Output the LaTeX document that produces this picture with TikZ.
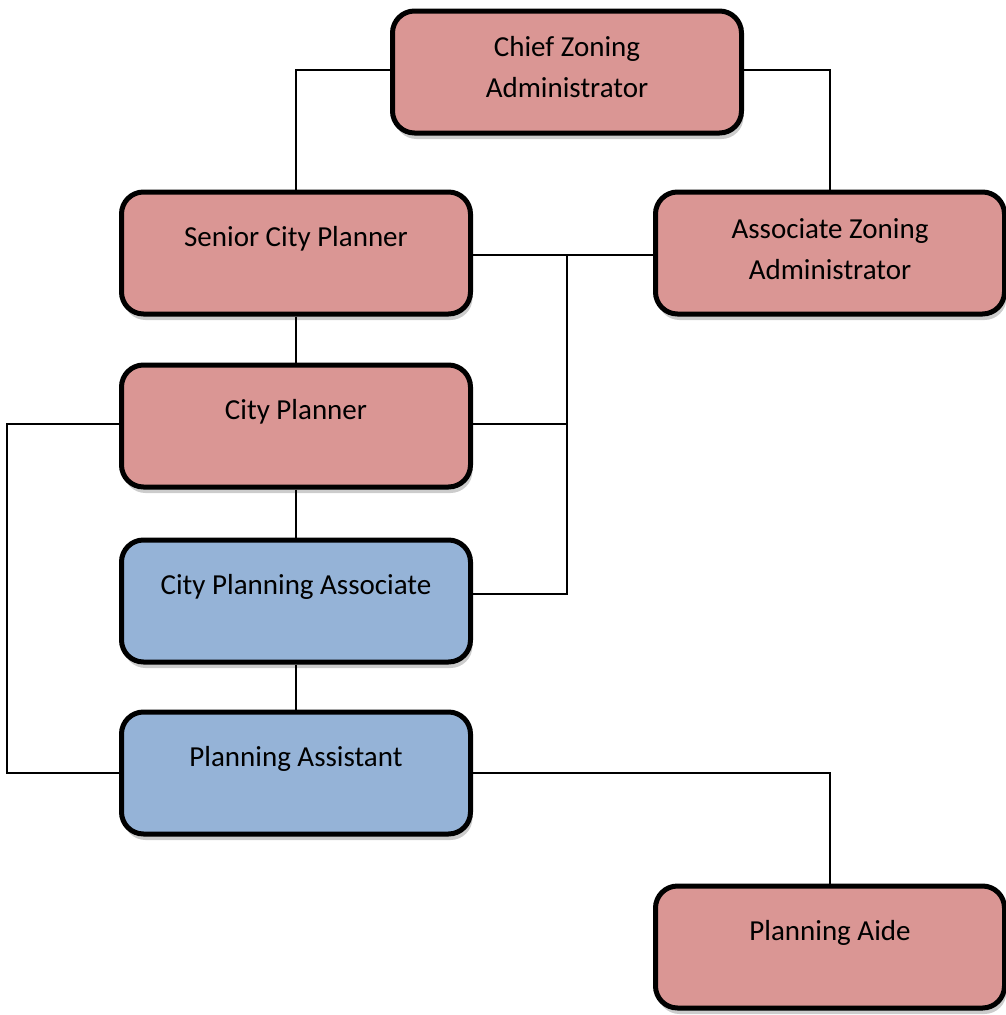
\documentclass[tikz,border=0pt]{standalone}
\usepackage{fontspec}
\setmainfont{Carlito}
\usetikzlibrary{shadows}
\definecolor{rolepink}{HTML}{DA9694}
\definecolor{roleblue}{HTML}{95B3D7}
\newcommand{\rolenode}[5]{
  \node[#1, label={[title, yshift=#5]center:#4}] (#2) at #3 {};
}
\tikzset{
  role/.style={draw=black, line width=5pt, rounded corners=22pt,
               minimum width=349pt, minimum height=122pt,
               drop shadow={shadow xshift=2pt, shadow yshift=-6pt, opacity=0.4}},
  pinkrole/.style={role, fill=rolepink},
  bluerole/.style={role, fill=roleblue},
  title/.style={font=\fontsize{29}{41}\selectfont, align=center},
  link/.style={line width=2pt}
}

\begin{document}
\begin{tikzpicture}[x=1pt, y=-1pt]
  \useasboundingbox (0,0) rectangle (1005,1015);
  \rolenode{pinkrole}{chief}{(567,72)}{Chief Zoning\\Administrator}{5pt}
  \rolenode{pinkrole}{senior}{(296,253)}{Senior City Planner}{14pt}
  \rolenode{pinkrole}{assoczone}{(830,253)}{Associate Zoning\\Administrator}{4pt}
  \rolenode{pinkrole}{planner}{(296,426)}{City Planner}{14pt}
  \rolenode{bluerole}{associate}{(296,601)}{City Planning Associate}{14pt}
  \rolenode{bluerole}{assistant}{(296,773)}{Planning Assistant}{14pt}
  \rolenode{pinkrole}{aide}{(830,947)}{Planning Aide}{14pt}
  \coordinate (hub) at (567,255);
  \draw[link] ([yshift=2pt]chief.west) -| (senior.north);
  \draw[link] ([yshift=2pt]chief.east) -| (assoczone.north);
  \draw[link] (senior.east |- hub) -- (assoczone.west |- hub);
  \draw[link] (hub) |- ([yshift=7pt]associate.east);
  \draw[link] ([yshift=2pt]planner.east) -- ([yshift=2pt]planner.east -| hub);
  \draw[link] (senior) -- (planner);
  \draw[link] (planner) -- (associate);
  \draw[link] (associate) -- (assistant);
  \draw[link] ([yshift=2pt]planner.west) -- ++(-112,0) |- (assistant.west);
  \draw[link] (assistant.east) -| (aide.north);
\end{tikzpicture}
\end{document}
